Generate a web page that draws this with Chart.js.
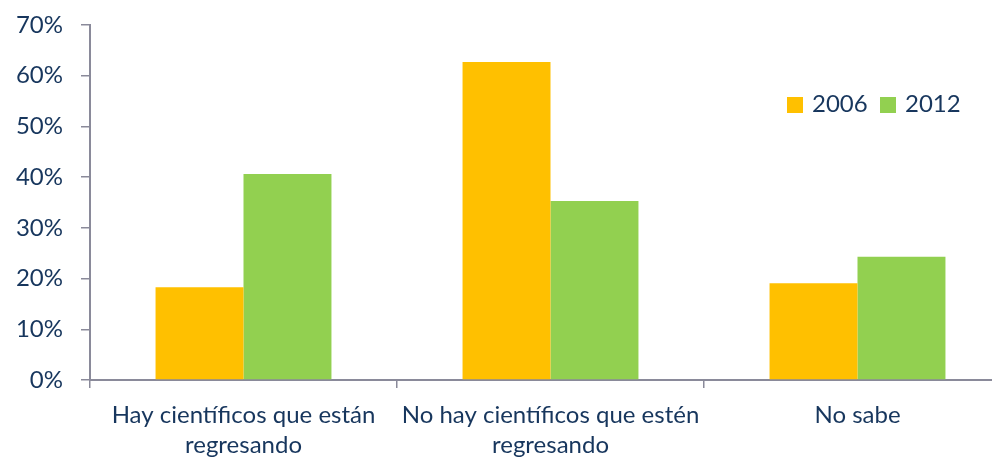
<!DOCTYPE html>
<html>
<head>
<meta charset="utf-8">
<script src="https://cdn.jsdelivr.net/npm/chart.js@4/dist/chart.umd.min.js"></script>
<style>
html,body{margin:0;padding:0;background:#fff;overflow:hidden;width:992px;height:459px;}
#wrap{position:relative;width:1030px;height:459px;}
</style>
</head>
<body>
<div id="wrap"><canvas id="c" width="1030" height="459"></canvas></div>
<script>
const categories = [["Hay científicos que están","regresando"],["No hay científicos que estén","regresando"],"No sabe"];
const seriesNames = ["2006","2012"];
const values2006 = [18.3, 62.7, 19.1];
const values2012 = [40.6, 35.3, 24.3];
const yTicks = [0,10,20,30,40,50,60,70];

const TEXT = '#17365D';
const AXIS = '#8A8A9A';
const COLORS = ['#FFC000','#92D050'];
const FONT = 'Lato';

const legendPlugin = {
  id: 'customLegend',
  afterDraw(chart){
    const ctx = chart.ctx;
    ctx.save();
    ctx.font = '24px ' + FONT;
    ctx.textBaseline = 'middle';
    ctx.textAlign = 'left';
    const items = [{x:787, text: seriesNames[0], color: COLORS[0]},{x:880, text: seriesNames[1], color: COLORS[1]}];
    items.forEach(it=>{
      ctx.fillStyle = it.color;
      ctx.fillRect(it.x, 97, 16, 16);
      ctx.fillStyle = TEXT;
      ctx.fillText(it.text, it.x + 25, 104);
    });
    ctx.restore();
  }
};

new Chart(document.getElementById('c'), {
  type: 'bar',
  data: {
    labels: categories,
    datasets: [
      {label: seriesNames[0], data: values2006, backgroundColor: COLORS[0], barPercentage: 1, categoryPercentage: 0.573},
      {label: seriesNames[1], data: values2012, backgroundColor: COLORS[1], barPercentage: 1, categoryPercentage: 0.573}
    ]
  },
  options: {
    responsive: false,
    devicePixelRatio: 1,
    animation: false,
    layout: {padding: {top: 25, right: 19, left: 0, bottom: 0}},
    plugins: {legend: {display: false}, tooltip: {enabled: false}},
    scales: {
      x: {
        grid: {display: true, drawOnChartArea: false, drawTicks: true, tickLength: 8, color: AXIS, lineWidth: 1.5, offset: true},
        border: {color: AXIS, width: 2},
        ticks: {color: TEXT, font: {family: FONT, size: 24, lineHeight: 1.25}, padding: 12, maxRotation: 0, autoSkip: false},
        afterFit(scale){ scale.height = 79; scale.paddingLeft = 0; scale.paddingRight = 0; }
      },
      y: {
        min: 0, max: 70,
        afterBuildTicks(scale){ scale.ticks = yTicks.map(v=>({value:v})); },
        grid: {display: true, drawOnChartArea: false, drawTicks: true, tickLength: 9, color: AXIS, lineWidth: 1.5},
        border: {color: AXIS, width: 2},
        ticks: {color: TEXT, font: {family: FONT, size: 24}, padding: 18, callback: v => v + '%'},
        afterFit(scale){ scale.width = 90; scale.paddingTop = 0; scale.paddingBottom = 0; }
      }
    }
  },
  plugins: [legendPlugin]
});
</script>
</body>
</html>
